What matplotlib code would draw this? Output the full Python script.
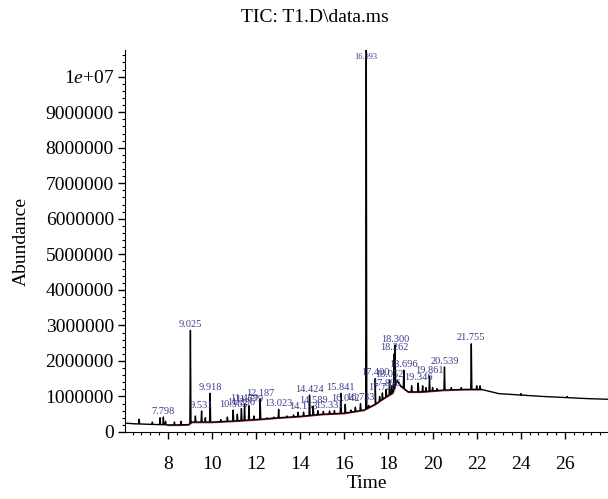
import numpy as np
import matplotlib.pyplot as plt
from matplotlib.ticker import MultipleLocator, FuncFormatter

plt.rcParams['font.family'] = ['Liberation Serif', 'DejaVu Serif']
plt.rcParams['mathtext.fontset'] = 'custom'
plt.rcParams['mathtext.rm'] = 'Liberation Serif'
plt.rcParams['mathtext.it'] = 'Liberation Serif:italic'

# baseline of the TIC trace (time, abundance in 1e6)
base_t = [6.06, 6.5, 7.0, 7.5, 8.0, 8.5, 8.95, 9.1, 10.0, 11.0, 12.0, 13.0, 14.0,
          15.0, 16.0, 16.9, 17.4, 17.8, 18.2, 18.4, 18.55, 18.9, 19.5, 20.5,
          21.5, 22.2, 23.0, 24.0, 25.0, 26.0, 27.0, 28.0]
base_a = [0.25, 0.23, 0.22, 0.21, 0.2, 0.2, 0.21, 0.28, 0.28, 0.31, 0.35, 0.4, 0.44,
          0.5, 0.53, 0.62, 0.78, 0.95, 1.1, 1.45, 1.3, 1.13, 1.13, 1.18,
          1.2, 1.2, 1.08, 1.04, 1.0, 0.97, 0.94, 0.92]

# labelled peaks
peak_t = [7.798, 9.025, 9.531, 9.918, 10.963, 11.336, 11.479, 11.679, 12.187,
          13.023, 14.153, 14.424, 14.589, 15.331, 15.841, 16.042, 16.733, 16.993,
          17.400, 17.726, 17.896, 18.052, 18.262, 18.300, 18.696, 19.346, 19.861,
          20.539, 21.755]
peak_a = [0.42, 2.86, 0.59, 1.09, 0.62, 0.66, 0.78, 0.74, 0.93,
          0.64, 0.56, 1.04, 0.73, 0.59, 1.09, 0.78, 0.80, 11.5,
          1.5, 1.1, 1.2, 1.46, 2.2, 2.45, 1.74, 1.38, 1.57,
          1.83, 2.48]
peak_lbl = ["7.798", "9.025", "9.531", "9.918", "10.963", "11.336", "11.479", "11.679",
            "12.187", "13.023", "14.153", "14.424", "14.589", "15.331", "15.841",
            "16.042", "16.733", "16.993", "17.400", "17.726", "17.896", "18.052",
            "18.262", "18.300", "18.696", "19.346", "19.861", "20.539", "21.755"]

# small unlabelled peaks
small_t = [6.7, 7.3, 7.65, 7.9, 8.3, 8.6, 9.25, 9.7, 10.4, 10.7, 11.15, 11.9, 12.5,
           12.8, 13.4, 13.7, 13.9, 14.8, 15.05, 15.55, 16.3, 16.5, 17.1, 17.6,
           18.15, 19.05, 19.55, 19.7, 20.0, 20.2, 20.85, 21.3, 22.0, 22.15, 24.0, 26.1]
small_a = [0.36, 0.28, 0.4, 0.3, 0.28, 0.3, 0.45, 0.4, 0.35, 0.42, 0.5, 0.45, 0.4,
           0.42, 0.45, 0.48, 0.55, 0.6, 0.58, 0.6, 0.62, 0.7, 0.75, 1.0,
           1.3, 1.3, 1.3, 1.25, 1.25, 1.22, 1.25, 1.25, 1.3, 1.3, 1.08, 1.0]

xlim = (6.06, 27.95)
ytop = 10.75e6

fig = plt.figure(figsize=(6.08, 4.99), dpi=100)
ax = fig.add_axes([125 / 608, 67 / 499, 483 / 608, 382 / 499])

# build the trace: baseline with narrow spikes
bt = np.array(base_t)
ba = np.array(base_a) * 1e6
w = 0.025
xs = list(bt)
ys = list(ba)
for t, a in zip(peak_t + small_t, peak_a + small_a):
    foot_l = np.interp(t - w, bt, ba)
    foot_r = np.interp(t + w, bt, ba)
    xs += [t - w, t, t + w]
    ys += [foot_l, a * 1e6, foot_r]
order = np.argsort(xs, kind="stable")
xs = np.array(xs)[order]
ys = np.array(ys)[order]

# integration baseline (red)
sel = (bt >= 7.6) & (bt <= 22.3)
ax.plot(bt[sel], ba[sel] - 0.02e6, color="#b02020", lw=0.8, zorder=1)
ax.plot(xs, ys, color="black", lw=1.0, zorder=2)

for t, a, s in zip(peak_t, peak_a, peak_lbl):
    if a * 1e6 > ytop:
        ax.text(t, ytop * 0.972, s, ha="center", va="bottom", fontsize=6,
                color="#3c3c8a", zorder=3)
    else:
        ax.annotate(s, (t, a * 1e6), xytext=(0, 1), textcoords="offset points",
                    ha="center", va="bottom", fontsize=7.5, color="#3c3c8a", zorder=3)

ax.set_xlim(*xlim)
ax.set_ylim(0, ytop)
ax.xaxis.set_major_locator(MultipleLocator(2))
ax.xaxis.set_minor_locator(MultipleLocator(0.4))
ax.yaxis.set_major_locator(MultipleLocator(1e6))
ax.yaxis.set_minor_locator(MultipleLocator(2e5))


def fmt_y(v, pos):
    if v >= 1e7:
        return r"1$e$+07"
    return f"{int(round(v))}"


ax.yaxis.set_major_formatter(FuncFormatter(fmt_y))
ax.xaxis.set_major_formatter(FuncFormatter(lambda v, p: f"{int(round(v))}"))

for s in ["top", "right"]:
    ax.spines[s].set_visible(False)
ax.tick_params(which="major", length=5, width=1, labelsize=14, direction="out")
ax.tick_params(which="minor", length=2.5, width=0.8, direction="out")
ax.tick_params(axis="x", pad=12)
ax.tick_params(axis="y", pad=3)

ax.set_xlabel("Time", fontsize=14, labelpad=2)
ax.set_ylabel("Abundance", fontsize=14, labelpad=11)
fig.text(315 / 608, 1 - 18 / 499, r"TIC: T1.D\data.ms", ha="center", va="center",
         fontsize=14)

fig.savefig("out.png", dpi=100)
